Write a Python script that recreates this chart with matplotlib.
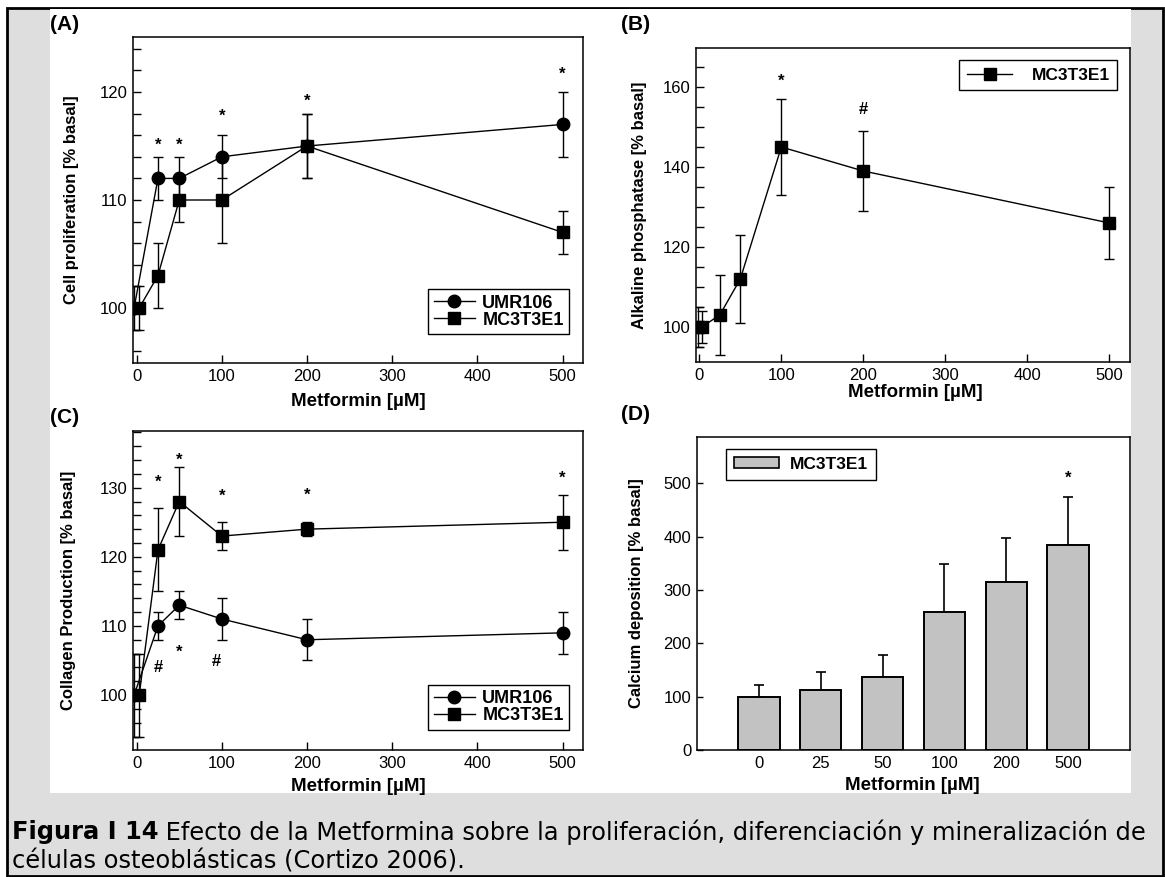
import matplotlib.pyplot as plt
from matplotlib.patches import Rectangle, Patch
from matplotlib.lines import Line2D
from matplotlib.ticker import MultipleLocator

plt.rcParams['font.family'] = ['Liberation Sans', 'DejaVu Sans']

doses = [0, 25, 50, 100, 200, 500]

# (A) cell proliferation [% basal]
prolif_umr = [100, 112, 112, 114, 115, 117]
prolif_umr_err = [2, 2, 2, 2, 3, 3]
prolif_mc = [100, 103, 110, 110, 115, 107]
prolif_mc_err = [2, 3, 2, 4, 3, 2]
prolif_marks = [(25, 115.6, '*'), (50, 115.6, '*'), (100, 118.2, '*'),
                (200, 119.6, '*'), (500, 122.1, '*')]

# (B) alkaline phosphatase, MC3T3E1 (basal point appears twice at 0)
alp_doses = [0, 0, 25, 50, 100, 200, 500]
alp = [100, 100, 103, 112, 145, 139, 126]
alp_err = [5, 4, 10, 11, 12, 10, 9]
alp_marks = [(100, 162.7, '*'), (200, 154.8, '#')]

# (C) collagen production
coll_umr = [100, 110, 113, 111, 108, 109]
coll_umr_err = [6, 2, 2, 3, 3, 3]
coll_mc = [100, 121, 128, 123, 124, 125]
coll_mc_err = [6, 6, 5, 2, 1, 4]
coll_marks = [(25, 131.5, '*'), (50, 134.7, '*'), (100, 129.5, '*'),
              (200, 129.7, '*'), (500, 132.1, '*'),
              (25, 104.2, '#'), (50, 107.0, '*'), (94, 105.1, '#')]

# (D) calcium deposition
calcium = [100, 113, 136, 258, 316, 384]
calcium_err = [21, 33, 42, 91, 81, 90]
calcium_marks = [(5, 519, '*')]
dose_labels = ['0', '25', '50', '100', '200', '500']

W, H = 1165, 877
fig = plt.figure(figsize=(W / 100, H / 100), dpi=100)

# page background: grey frame with black border, white figure area
fig.add_artist(Rectangle((7 / W, 1 - 876 / H), (1163 - 7) / W, (876 - 8) / H,
                         transform=fig.transFigure, facecolor='#dedede',
                         edgecolor='black', lw=2, zorder=-10))
fig.add_artist(Rectangle((50 / W, 1 - 793 / H), (1131 - 50) / W, (793 - 9) / H,
                         transform=fig.transFigure, facecolor='white',
                         edgecolor='none', zorder=-9))


def axes_box(left, top, right, bottom):
    return fig.add_axes([left / W, 1 - bottom / H, (right - left) / W, (bottom - top) / H])


def dodge(xs, shift):
    return [x + shift if x == 0 else x for x in xs]


narrow = ['Liberation Sans Narrow', 'Liberation Sans', 'DejaVu Sans']
sym_offset = {'*': -7, '#': -4.5}


def style(ax, xlab, ylab, xl_pos, yl_pos):
    for s in ax.spines.values():
        s.set_linewidth(1.1)
    ax.tick_params(direction='in', length=6, width=1, labelsize=12, pad=4,
                   top=False, right=False)
    ax.tick_params(which='minor', direction='in', length=6, width=1, top=False, right=False)
    ax.set_xlabel(xlab, fontsize=13.5, fontweight='bold', va='center')
    ax.xaxis.set_label_coords(*xl_pos)
    ax.set_ylabel(ylab, fontsize=12, fontweight='bold', va='center', family=narrow)
    ax.yaxis.set_label_coords(*yl_pos)


def marks(ax, items):
    for x, y, s in items:
        ax.annotate(s, (x, y), xytext=(0, sym_offset[s]), textcoords='offset points',
                    ha='center', va='baseline', fontsize=12, fontweight='bold')


def pair_legend(ax, anchor):
    h = [Line2D([0], [0], color='black', lw=1, marker='o', ms=9),
         Line2D([0], [0], color='black', lw=1, marker='s', ms=8)]
    leg = ax.legend(h, ['UMR106', 'MC3T3E1'], loc='lower right', bbox_to_anchor=anchor,
                    borderaxespad=0, fancybox=False, framealpha=1, edgecolor='black',
                    prop={'weight': 'bold', 'size': 13}, handlelength=2.3,
                    handletextpad=0.4, labelspacing=0.0, borderpad=0.3)
    leg.get_frame().set_linewidth(1.0)


eb = dict(color='black', lw=1, elinewidth=1, capsize=3.3, capthick=1)

# ---- (A)
axA = axes_box(133, 37, 583, 363)
axA.errorbar(dodge(doses, -3), prolif_umr, yerr=prolif_umr_err, fmt='-o', ms=9, **eb)
axA.errorbar(dodge(doses, 3), prolif_mc, yerr=prolif_mc_err, fmt='-s', ms=8, **eb)
axA.set_xlim(-4.3, 524)
axA.set_ylim(94.9, 125.1)
axA.set_xticks(range(0, 501, 100))
axA.set_yticks([100, 110, 120])
axA.yaxis.set_minor_locator(MultipleLocator(2))
marks(axA, prolif_marks)
pair_legend(axA, (0.969, 0.089))
style(axA, 'Metformin [µM]', 'Cell proliferation [% basal]', (0.5, -0.119), (-0.136, 0.5))

# ---- (B)
axB = axes_box(696, 48, 1130, 362)
alp_x = [d + s for d, s in zip(alp_doses, [-2, 3, 0, 0, 0, 0, 0])]
axB.errorbar(alp_x, alp, yerr=alp_err, fmt='-s', ms=8, **eb)
axB.set_xlim(-4, 525)
axB.set_ylim(91.25, 169.75)
axB.set_xticks(range(0, 501, 100))
axB.set_yticks([100, 120, 140, 160])
axB.yaxis.set_minor_locator(MultipleLocator(5))
marks(axB, alp_marks)
legB = axB.legend([Line2D([0], [0], color='black', lw=1, marker='s', ms=8)], ['MC3T3E1'],
                  loc='upper right', bbox_to_anchor=(0.971, 0.963), borderaxespad=0,
                  fancybox=False, framealpha=1, edgecolor='black',
                  prop={'weight': 'bold', 'size': 12.5}, handlelength=2.6,
                  handletextpad=1.1, borderpad=0.45)
legB.get_frame().set_linewidth(1.0)
style(axB, 'Metformin [µM]', 'Alkaline phosphatase [% basal]', (0.505, -0.096), (-0.131, 0.5))

# ---- (C)
axC = axes_box(133, 431, 583, 750)
axC.errorbar(dodge(doses, -3), coll_umr, yerr=coll_umr_err, fmt='-o', ms=9, **eb)
axC.errorbar(dodge(doses, 3), coll_mc, yerr=coll_mc_err, fmt='-s', ms=8, **eb)
axC.set_xlim(-4.3, 524)
axC.set_ylim(92.05, 138.2)
axC.set_xticks(range(0, 501, 100))
axC.set_yticks([100, 110, 120, 130])
axC.yaxis.set_minor_locator(MultipleLocator(2))
marks(axC, coll_marks)
pair_legend(axC, (0.969, 0.063))
style(axC, 'Metformin [µM]', 'Collagen Production [% basal]', (0.5, -0.115), (-0.144, 0.5))

# ---- (D)
axD = axes_box(697, 437, 1130, 750)
pos = range(len(calcium))
axD.bar(pos, calcium, width=0.67, color='#c2c2c2', edgecolor='black', lw=1.4, zorder=2)
axD.errorbar(pos, calcium, yerr=[[0] * len(calcium), calcium_err], fmt='none',
             ecolor='black', elinewidth=1.2, capsize=3.5, capthick=1.2, zorder=1)
axD.set_xlim(-1, 6)
axD.set_ylim(0, 587)
axD.set_xticks(list(pos))
axD.set_xticklabels(dose_labels)
axD.set_yticks(range(0, 501, 100))
marks(axD, calcium_marks)
legD = axD.legend([Patch(facecolor='#c2c2c2', edgecolor='black', lw=1.2)], ['MC3T3E1'],
                  loc='upper left', bbox_to_anchor=(0.068, 0.961), borderaxespad=0,
                  fancybox=False, framealpha=1, edgecolor='black',
                  prop={'weight': 'bold', 'size': 12.5}, handlelength=2.6, handleheight=0.6,
                  handletextpad=0.6, borderpad=0.45)
legD.get_frame().set_linewidth(1.0)
style(axD, 'Metformin [µM]', 'Calcium deposition [% basal]', (0.497, -0.115), (-0.140, 0.5))
axD.tick_params(axis='x', length=0, pad=4)
axD.tick_params(axis='y', length=4)

# panel letters
for lab, x, y in [('(A)', 50, 25), ('(B)', 621, 25), ('(C)', 50, 417), ('(D)', 621, 415)]:
    fig.text(x / W, 1 - y / H, lab, fontsize=15, fontweight='bold', va='center', ha='left')

# caption, sized to span the page width
cap_font = 'DejaVu Sans'
line1_bold = 'Figura I 14'
line1 = ' Efecto de la Metformina sobre la proliferación, diferenciación y mineralización de'
line2 = 'células osteoblásticas (Cortizo 2006).'
renderer = fig.canvas.get_renderer()
pb = fig.text(0, 0, line1_bold, fontsize=15, fontweight='bold', family=cap_font)
pr = fig.text(0, 0, line1, fontsize=15, family=cap_font)
total = pb.get_window_extent(renderer).width + pr.get_window_extent(renderer).width
pb.remove()
pr.remove()
cap_fs = 15 * 1138 / total
t1 = fig.text(12 / W, 1 - 832 / H, line1_bold, fontsize=cap_fs, fontweight='bold',
              family=cap_font, va='center', ha='left')
bb = t1.get_window_extent(renderer)
fig.text(bb.x1 / W, 1 - 832 / H, line1, fontsize=cap_fs, family=cap_font, va='center', ha='left')
fig.text(12 / W, 1 - 862 / H, line2, fontsize=cap_fs, family=cap_font, va='center', ha='left')

fig.savefig('out.png', dpi=100)
